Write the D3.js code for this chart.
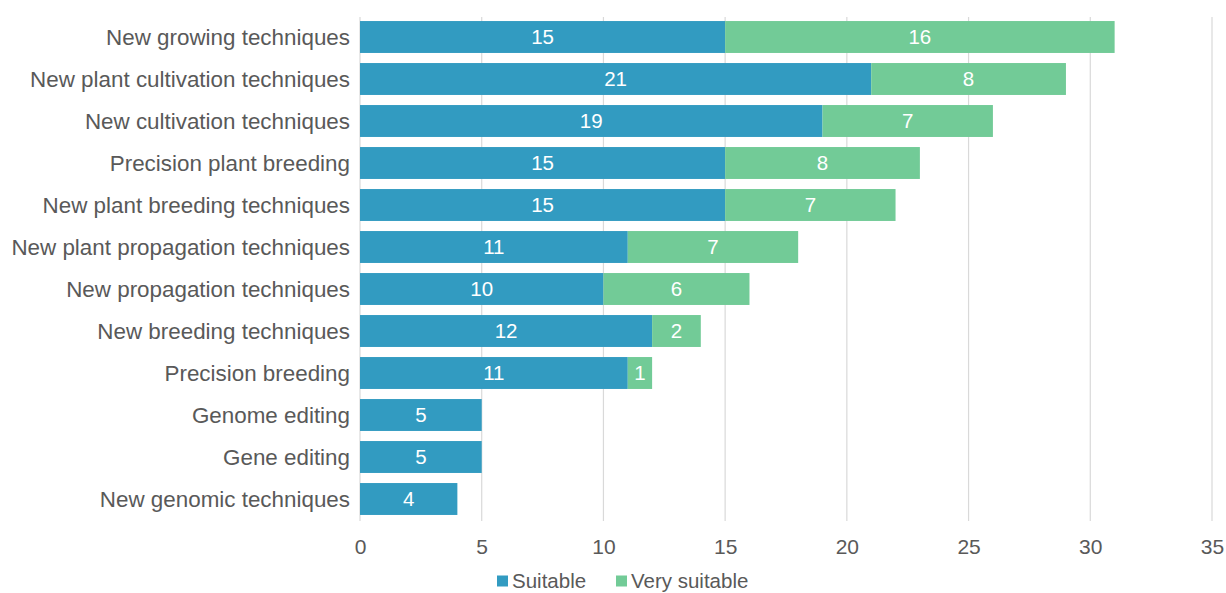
<!DOCTYPE html>
<html>
<head>
<meta charset="utf-8">
<script src="https://cdn.jsdelivr.net/npm/d3@7"></script>
<style>
  html, body { margin: 0; padding: 0; background: #fff; }
  svg { display: block; font-family: "Liberation Sans", Arial, sans-serif; }
</style>
</head>
<body>
<svg id="chart" width="1226" height="593"></svg>
<script>
// Terms, ordered top to bottom
const categories = [
  "New growing techniques",
  "New plant cultivation techniques",
  "New cultivation techniques",
  "Precision plant breeding",
  "New plant breeding techniques",
  "New plant propagation techniques",
  "New propagation techniques",
  "New breeding techniques",
  "Precision breeding",
  "Genome editing",
  "Gene editing",
  "New genomic techniques"
];
const suitable     = [15, 21, 19, 15, 15, 11, 10, 12, 11, 5, 5, 4];
const verySuitable = [16, 8, 7, 8, 7, 7, 6, 2, 1, 0, 0, 0];
const seriesNames  = ["Suitable", "Very suitable"];
const seriesColors = ["#329bc1", "#72cb97"];
const xTicks       = [0, 5, 10, 15, 20, 25, 30, 35];

const svg = d3.select("#chart");
const plotLeft = 360, plotRight = 1212, plotTop = 16, plotBottom = 520;
const textGray = "#595959";

const x = d3.scaleLinear().domain([0, 35]).range([plotLeft, plotRight]);
const y = d3.scaleBand().domain(categories).range([plotTop, plotBottom]).paddingInner(0.24).paddingOuter(0.12);

// vertical gridlines
svg.append("g").selectAll("line").data(xTicks).join("line")
  .attr("x1", d => x(d)).attr("x2", d => x(d))
  .attr("y1", plotTop + 1).attr("y2", plotBottom + 1)
  .attr("stroke", "#d9d9d9").attr("stroke-width", 1.2);

// stacked data
const rows = categories.map((c, i) => ({ cat: c, s: suitable[i], v: verySuitable[i] }));
const stack = d3.stack().keys(["s", "v"])(rows);

const layers = svg.append("g").selectAll("g").data(stack).join("g")
  .attr("fill", (d, i) => seriesColors[i]);

layers.selectAll("rect").data(d => d.filter(p => p[1] - p[0] > 0)).join("rect")
  .attr("x", d => x(d[0]))
  .attr("y", d => y(d.data.cat))
  .attr("width", d => x(d[1]) - x(d[0]))
  .attr("height", y.bandwidth());

layers.selectAll("text").data(d => d.filter(p => p[1] - p[0] > 0)).join("text")
  .attr("x", d => (x(d[0]) + x(d[1])) / 2)
  .attr("y", d => y(d.data.cat) + y.bandwidth() / 2)
  .attr("dy", "0.36em")
  .attr("text-anchor", "middle")
  .attr("fill", "#fff")
  .attr("font-size", 20.5)
  .text(d => d[1] - d[0]);

// category labels
svg.append("g").selectAll("text").data(categories).join("text")
  .attr("x", 350)
  .attr("y", d => y(d) + y.bandwidth() / 2)
  .attr("dy", "0.36em")
  .attr("text-anchor", "end")
  .attr("fill", textGray)
  .attr("font-size", 22.4)
  .text(d => d);

// x tick labels
const xAxis = d3.axisBottom(x).tickValues(xTicks).tickSize(0).tickPadding(0);
const ax = svg.append("g").attr("transform", `translate(0,${plotBottom + 19})`).call(xAxis);
ax.select(".domain").remove();
ax.selectAll("text")
  .attr("fill", textGray)
  .attr("font-size", 21)
  .attr("font-family", "Liberation Sans, Arial, sans-serif");

// legend
const legend = svg.append("g").attr("transform", "translate(497,581)");
const itemOffsets = [0, 119];
seriesNames.forEach((n, i) => {
  const g = legend.append("g").attr("transform", `translate(${itemOffsets[i]},0)`);
  g.append("rect").attr("x", 0).attr("y", -5.5).attr("width", 11).attr("height", 11).attr("fill", seriesColors[i]);
  g.append("text").attr("x", 15).attr("y", 0).attr("dy", "0.34em")
    .attr("fill", textGray).attr("font-size", 20.5).text(n);
});
</script>
</body>
</html>
